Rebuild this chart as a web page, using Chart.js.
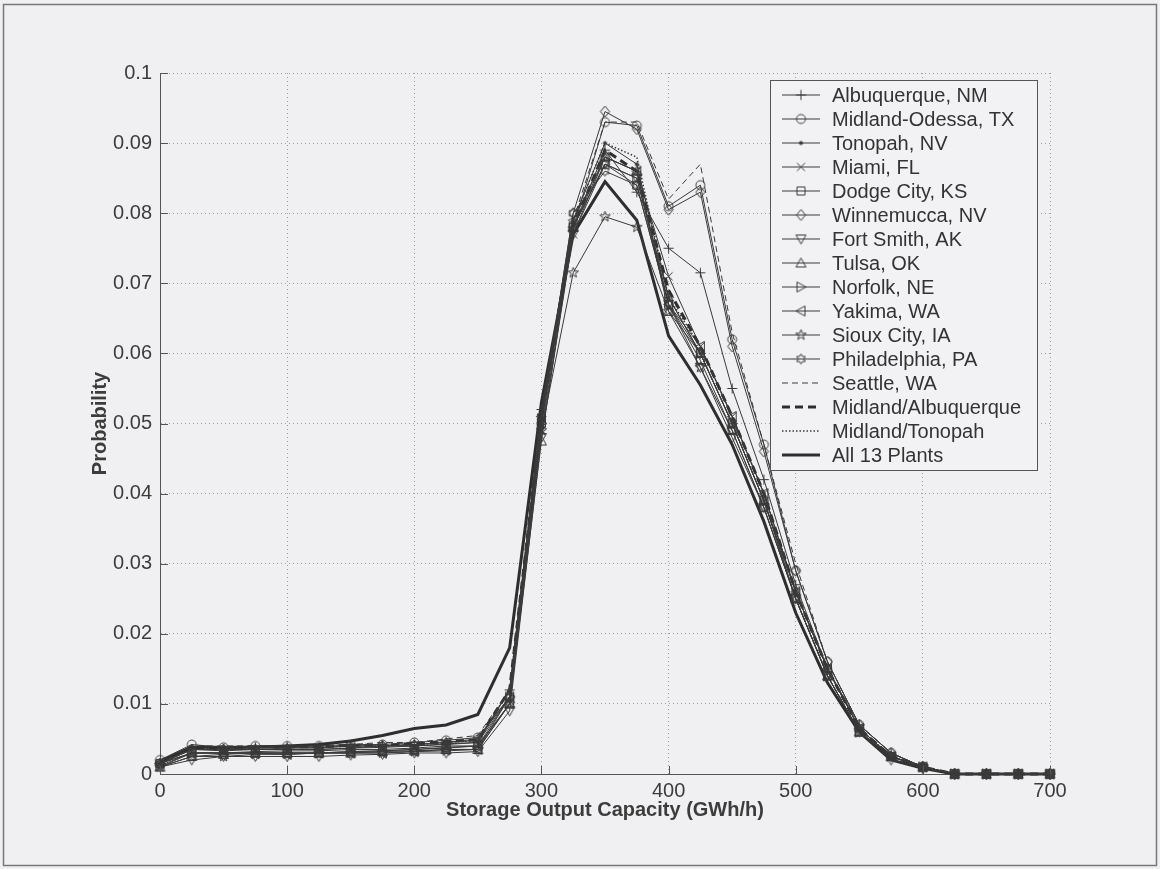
<!DOCTYPE html>
<html>
<head>
<meta charset="utf-8">
<script src="https://cdn.jsdelivr.net/npm/chart.js@4.4.0/dist/chart.umd.min.js"></script>
<style>
html, body { margin: 0; padding: 0; background: #f0f0f2; }
canvas { display: block; }
</style>
</head>
<body>
<canvas id="chartProbability" width="1160" height="869"></canvas>
<script>
// X VALUES (GWh/h)
var capacity = [0, 25, 50, 75, 100, 125, 150, 175, 200, 225, 250, 275, 300, 325, 350, 375, 400, 425, 450, 475, 500, 525, 550, 575, 600, 625, 650, 675, 700];

// PROBABILITY PER SITE
var albuquerque = [0.0015,0.0035,0.0035,0.0038,0.0038,0.0038,0.0040,0.0040,0.0042,0.0045,0.0048,0.0120,0.0520,0.0780,0.0890,0.0830,0.0750,0.0715,0.0550,0.0420,0.0270,0.0150,0.0070,0.0030,0.0010,0,0,0,0];
var midlandOdessa = [0.0020,0.0042,0.0038,0.0040,0.0040,0.0040,0.0042,0.0042,0.0045,0.0048,0.0052,0.0110,0.0500,0.0780,0.0930,0.0925,0.0810,0.0840,0.0620,0.0470,0.0290,0.0160,0.0070,0.0030,0.0010,0,0,0,0];
var tonopah = [0.0015,0.0035,0.0033,0.0035,0.0035,0.0035,0.0037,0.0038,0.0040,0.0042,0.0045,0.0120,0.0510,0.0790,0.0900,0.0870,0.0680,0.0600,0.0500,0.0390,0.0260,0.0150,0.0065,0.0025,0.0010,0,0,0,0];
var miami = [0.0010,0.0030,0.0030,0.0032,0.0033,0.0033,0.0035,0.0035,0.0037,0.0040,0.0040,0.0100,0.0490,0.0770,0.0880,0.0860,0.0710,0.0610,0.0510,0.0400,0.0260,0.0150,0.0065,0.0025,0.0010,0,0,0,0];
var dodgeCity = [0.0015,0.0030,0.0030,0.0030,0.0030,0.0030,0.0032,0.0033,0.0035,0.0038,0.0040,0.0100,0.0500,0.0780,0.0870,0.0840,0.0670,0.0590,0.0490,0.0380,0.0250,0.0140,0.0060,0.0025,0.0010,0,0,0,0];
var winnemucca = [0.0015,0.0035,0.0035,0.0035,0.0035,0.0035,0.0037,0.0040,0.0040,0.0043,0.0045,0.0110,0.0510,0.0800,0.0945,0.0920,0.0805,0.0830,0.0610,0.0460,0.0290,0.0160,0.0070,0.0030,0.0010,0,0,0,0];
var fortSmith = [0.0010,0.0020,0.0025,0.0025,0.0025,0.0025,0.0027,0.0028,0.0030,0.0030,0.0032,0.0090,0.0480,0.0770,0.0870,0.0850,0.0670,0.0580,0.0480,0.0380,0.0250,0.0140,0.0060,0.0020,0.0008,0,0,0,0];
var tulsa = [0.0010,0.0025,0.0028,0.0030,0.0030,0.0030,0.0030,0.0032,0.0033,0.0035,0.0035,0.0100,0.0475,0.0780,0.0880,0.0860,0.0660,0.0600,0.0500,0.0390,0.0250,0.0140,0.0060,0.0025,0.0010,0,0,0,0];
var norfolk = [0.0012,0.0030,0.0030,0.0030,0.0030,0.0030,0.0032,0.0033,0.0035,0.0037,0.0040,0.0110,0.0500,0.0780,0.0870,0.0850,0.0680,0.0600,0.0500,0.0390,0.0250,0.0140,0.0060,0.0025,0.0010,0,0,0,0];
var yakima = [0.0015,0.0030,0.0030,0.0030,0.0028,0.0030,0.0030,0.0030,0.0032,0.0035,0.0035,0.0110,0.0510,0.0790,0.0880,0.0860,0.0670,0.0610,0.0510,0.0400,0.0260,0.0150,0.0065,0.0025,0.0010,0,0,0,0];
var siouxCity = [0.0010,0.0025,0.0025,0.0028,0.0028,0.0030,0.0030,0.0030,0.0032,0.0033,0.0035,0.0100,0.0490,0.0715,0.0795,0.0780,0.0660,0.0580,0.0490,0.0380,0.0250,0.0140,0.0060,0.0025,0.0010,0,0,0,0];
var philadelphia = [0.0015,0.0035,0.0035,0.0035,0.0037,0.0037,0.0040,0.0040,0.0042,0.0045,0.0050,0.0110,0.0510,0.0800,0.0860,0.0840,0.0670,0.0600,0.0500,0.0390,0.0260,0.0150,0.0065,0.0025,0.0010,0,0,0,0];
var seattle = [0.0020,0.0040,0.0040,0.0040,0.0040,0.0040,0.0042,0.0045,0.0045,0.0050,0.0055,0.0120,0.0520,0.0790,0.0930,0.0930,0.0820,0.0870,0.0630,0.0470,0.0300,0.0160,0.0070,0.0030,0.0010,0,0,0,0];
var midlandAlbuquerque = [0.0018,0.0038,0.0037,0.0039,0.0039,0.0039,0.0041,0.0041,0.0043,0.0046,0.0049,0.0120,0.0510,0.0780,0.0890,0.0860,0.0690,0.0610,0.0510,0.0400,0.0260,0.0150,0.0065,0.0025,0.0010,0,0,0,0];
var midlandTonopah = [0.0018,0.0037,0.0036,0.0038,0.0038,0.0038,0.0040,0.0040,0.0042,0.0045,0.0048,0.0120,0.0510,0.0790,0.0900,0.0880,0.0680,0.0610,0.0510,0.0400,0.0260,0.0150,0.0065,0.0025,0.0010,0,0,0,0];
var all13Plants = [0.0018,0.0038,0.0038,0.0038,0.0040,0.0042,0.0047,0.0055,0.0065,0.0070,0.0085,0.0180,0.0530,0.0770,0.0845,0.0790,0.0625,0.0555,0.0470,0.0360,0.0230,0.0130,0.0060,0.0020,0.0008,0,0,0,0];

// TICK LABELS
var xTickLabels = ['0', '100', '200', '300', '400', '500', '600', '700'];
var yTickLabels = ['0', '0.01', '0.02', '0.03', '0.04', '0.05', '0.06', '0.07', '0.08', '0.09', '0.1'];

var lineColor = '#3a3a3a';

// MARKER IMAGES (matlab style, hollow)
function starPath(g, n, outer, inner) {
    for (var k = 0; k < n * 2; k++) {
        var r = k % 2 === 0 ? outer : inner;
        var a = -Math.PI / 2 + k * Math.PI / n;
        if (k === 0) g.moveTo(r * Math.cos(a), r * Math.sin(a));
        else g.lineTo(r * Math.cos(a), r * Math.sin(a));
    }
    g.closePath();
}

function makeMarker(kind) {
    var c = document.createElement('canvas');
    c.width = 15;
    c.height = 15;
    var g = c.getContext('2d');
    g.strokeStyle = lineColor;
    g.fillStyle = lineColor;
    g.lineWidth = 1;
    g.translate(7.5, 7.5);
    g.beginPath();
    if (kind == 'plus') {
        g.moveTo(-5, 0); g.lineTo(5, 0); g.moveTo(0, -5); g.lineTo(0, 5);
    } else if (kind == 'circle') {
        g.arc(0, 0, 4.5, 0, Math.PI * 2);
    } else if (kind == 'point') {
        g.arc(0, 0, 1.6, 0, Math.PI * 2);
        g.fill();
    } else if (kind == 'x') {
        g.moveTo(-4, -4); g.lineTo(4, 4); g.moveTo(4, -4); g.lineTo(-4, 4);
    } else if (kind == 'square') {
        g.rect(-4, -4, 8, 8);
    } else if (kind == 'diamond') {
        g.moveTo(0, -5.5); g.lineTo(4.5, 0); g.lineTo(0, 5.5); g.lineTo(-4.5, 0); g.closePath();
    } else if (kind == 'down') {
        g.moveTo(0, 5); g.lineTo(5, -4); g.lineTo(-5, -4); g.closePath();
    } else if (kind == 'up') {
        g.moveTo(0, -5); g.lineTo(5, 4); g.lineTo(-5, 4); g.closePath();
    } else if (kind == 'right') {
        g.moveTo(5, 0); g.lineTo(-4, -5); g.lineTo(-4, 5); g.closePath();
    } else if (kind == 'left') {
        g.moveTo(-5, 0); g.lineTo(4, -5); g.lineTo(4, 5); g.closePath();
    } else if (kind == 'pentagram') {
        starPath(g, 5, 5.5, 2.2);
    } else if (kind == 'hexagram') {
        starPath(g, 6, 5, 2.9);
    }
    g.stroke();
    return c;
}

function series(label, values, marker, width, dash) {
    return {
        label: label,
        data: capacity.map(function(x, i) { return { x: x, y: values[i] }; }),
        borderColor: width > 1.5 ? '#2e2e2e' : lineColor,
        borderWidth: width,
        borderDash: dash,
        pointStyle: marker ? makeMarker(marker) : false,
        pointRadius: marker ? 5 : 0,
        tension: 0,
        clip: false,
        fill: false
    };
}

var datasets = [
    series('Albuquerque, NM', albuquerque, 'plus', 1, []),
    series('Midland-Odessa, TX', midlandOdessa, 'circle', 1, []),
    series('Tonopah, NV', tonopah, 'point', 1, []),
    series('Miami, FL', miami, 'x', 1, []),
    series('Dodge City, KS', dodgeCity, 'square', 1, []),
    series('Winnemucca, NV', winnemucca, 'diamond', 1, []),
    series('Fort Smith, AK', fortSmith, 'down', 1, []),
    series('Tulsa, OK', tulsa, 'up', 1, []),
    series('Norfolk, NE', norfolk, 'right', 1, []),
    series('Yakima, WA', yakima, 'left', 1, []),
    series('Sioux City, IA', siouxCity, 'pentagram', 1, []),
    series('Philadelphia, PA', philadelphia, 'hexagram', 1, []),
    series('Seattle, WA', seattle, null, 1, [6, 4]),
    series('Midland/Albuquerque', midlandAlbuquerque, null, 3, [8, 5]),
    series('Midland/Tonopah', midlandTonopah, null, 1.5, [1.5, 2]),
    series('All 13 Plants', all13Plants, null, 3, [])
];

// PAGE FRAME
var pageFrame = {
    id: 'pageFrame',
    beforeDraw: function(chart) {
        var ctx = chart.ctx;
        ctx.save();
        ctx.fillStyle = '#f0f0f2';
        ctx.fillRect(0, 0, chart.width, chart.height);
        ctx.strokeStyle = '#777777';
        ctx.lineWidth = 1.5;
        ctx.strokeRect(3.5, 4.5, chart.width - 7, chart.height - 8);
        ctx.restore();
    }
};

// TICKS POINTING INTO THE PLOT
var innerTicks = {
    id: 'innerTicks',
    afterDraw: function(chart) {
        var ctx = chart.ctx;
        var area = chart.chartArea;
        var xs = chart.scales.x, ys = chart.scales.y;
        ctx.save();
        ctx.strokeStyle = '#555555';
        ctx.lineWidth = 1;
        ctx.beginPath();
        xs.ticks.forEach(function(t) {
            var px = Math.round(xs.getPixelForValue(t.value)) + 0.5;
            ctx.moveTo(px, area.bottom);
            ctx.lineTo(px, area.bottom - 8);
        });
        ys.ticks.forEach(function(t) {
            var py = Math.round(ys.getPixelForValue(t.value)) + 0.5;
            ctx.moveTo(area.left, py);
            ctx.lineTo(area.left + 8, py);
        });
        ctx.stroke();
        ctx.restore();
    }
};

// LEGEND INSIDE THE PLOT, TOP RIGHT
var legendBox = {
    id: 'legendBox',
    afterDatasetsDraw: function(chart) {
        var ctx = chart.ctx;
        var area = chart.chartArea;
        var right = area.right - 13, top = area.top + 7;
        var w = 267, rowH = 24;
        var h = datasets.length * rowH + 6;
        var left = right - w;
        ctx.save();
        ctx.fillStyle = '#f2f2f4';
        ctx.fillRect(left, top, w, h);
        ctx.strokeStyle = '#555555';
        ctx.lineWidth = 1;
        ctx.strokeRect(left + 0.5, top + 0.5, w, h);
        ctx.font = '20px "Liberation Sans", Arial, sans-serif';
        ctx.textBaseline = 'middle';
        for (var i = 0; i < chart.data.datasets.length; i++) {
            var ds = chart.data.datasets[i];
            var y = top + 15 + i * rowH;
            ctx.strokeStyle = ds.borderColor;
            ctx.lineWidth = ds.borderWidth;
            ctx.setLineDash(ds.borderDash || []);
            ctx.beginPath();
            ctx.moveTo(left + 12, y);
            ctx.lineTo(left + 50, y);
            ctx.stroke();
            ctx.setLineDash([]);
            if (ds.pointStyle) {
                ctx.drawImage(ds.pointStyle, left + 31 - 7.5, y - 7.5);
            }
            ctx.fillStyle = '#333333';
            ctx.fillText(ds.label, left + 62, y + 1);
        }
        ctx.restore();
    }
};

var ctx = document.getElementById('chartProbability').getContext('2d');
var probabilityChart = new Chart(ctx, {
    type: 'line',
    data: { datasets: datasets },
    plugins: [pageFrame, innerTicks, legendBox],
    options: {
        responsive: false,
        animation: false,
        devicePixelRatio: 1,
        layout: { padding: { left: 84, top: 73, right: 110, bottom: 43 } },
        plugins: {
            legend: { display: false },
            tooltip: { enabled: false }
        },
        scales: {
            x: {
                type: 'linear',
                min: 0,
                max: 700,
                afterFit: function(scale) { scale.height = 52; },
                ticks: {
                    stepSize: 100,
                    padding: 5,
                    color: '#3c3c3c',
                    font: { family: '"Liberation Sans", Arial, sans-serif', size: 20 },
                    maxRotation: 0,
                    callback: function(v, i) { return xTickLabels[i]; }
                },
                grid: { color: '#a0a0a0', lineWidth: 1, drawTicks: false, borderDash: [1, 3] },
                border: { display: true, color: '#555555', width: 1, dash: [1, 3] },
                title: {
                    display: true,
                    text: 'Storage Output Capacity (GWh/h)',
                    color: '#3c3c3c',
                    font: { family: '"Liberation Sans", Arial, sans-serif', size: 20, weight: 'bold' },
                    padding: 4
                }
            },
            y: {
                type: 'linear',
                min: 0,
                max: 0.1,
                afterFit: function(scale) { scale.width = 76; },
                ticks: {
                    stepSize: 0.01,
                    padding: 8,
                    color: '#3c3c3c',
                    font: { family: '"Liberation Sans", Arial, sans-serif', size: 20 },
                    callback: function(v, i) { return yTickLabels[i]; }
                },
                grid: { color: '#a0a0a0', lineWidth: 1, drawTicks: false, borderDash: [1, 3] },
                border: { display: true, color: '#555555', width: 1, dash: [1, 3] },
                title: {
                    display: true,
                    text: 'Probability',
                    color: '#3c3c3c',
                    font: { family: '"Liberation Sans", Arial, sans-serif', size: 20, weight: 'bold' },
                    padding: 4
                }
            }
        }
    }
});
</script>
</body>
</html>
